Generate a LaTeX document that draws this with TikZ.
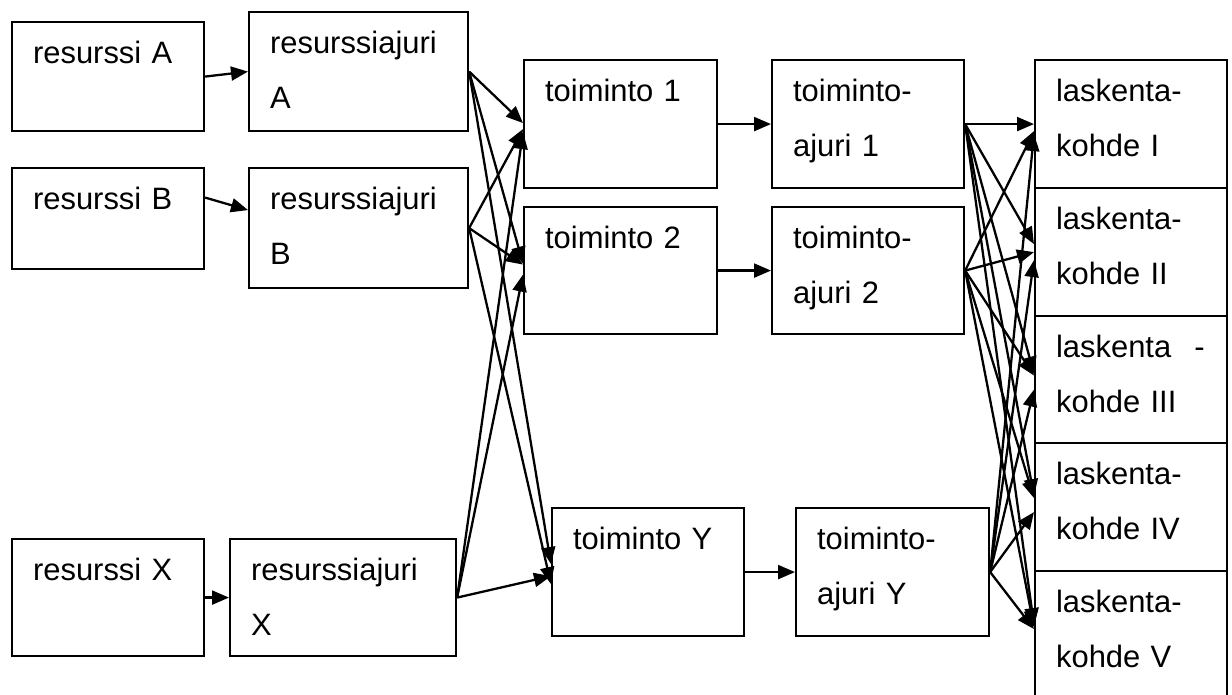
\documentclass[tikz,border=0pt]{standalone}
\usepackage{fontspec}
\setmainfont{Liberation Sans}
\usepackage{tikz}
\usetikzlibrary{calc, arrows.meta}
\newcommand*{\boxfont}{\fontsize{17.6}{31.3}\selectfont}
\tikzset{
	box/.style={draw, line width=1.25pt, anchor=north west, align=left, inner xsep=0.42cm, inner ysep=0pt, text height=0.82cm, font=\boxfont},
	arr/.style={-{Triangle[length=0.34cm, width=0.28cm]}, line width=1.3pt},
}
\begin{document}
\begin{tikzpicture}[x=0.02cm, y=-0.02cm]
\useasboundingbox (0,0) rectangle (1232,695);

% resurssit
\node[box, text width=3cm, text depth=1.36cm] (resA) at (11,21) {resurssi A};
\node[box, text width=3cm, text depth=1.2cm] (resB) at (11,167) {resurssi B};
\node[box, text width=3cm, text depth=1.52cm] (resX) at (11,538) {resurssi X};

% resurssiajurit
\node[box, text width=3.54cm, text depth=1.56cm] (ajA) at (248,11) {resurssiajuri\\A};
\node[box, text width=3.54cm, text depth=1.58cm] (ajB) at (248,167) {resurssiajuri\\B};
\node[box, text width=3.68cm, text depth=1.52cm] (ajX) at (229,538) {resurssiajuri\\X};

% toiminnot
\node[box, text width=3.02cm, text depth=1.74cm] (t1) at (523,59) {toiminto 1};
\node[box, text width=3.02cm, text depth=1.72cm] (t2) at (523,206) {toiminto 2};
\node[box, text width=3cm, text depth=1.74cm] (tY) at (551,507) {toiminto Y};

% toimintoajurit
\node[box, text width=3cm, text depth=1.74cm] (ta1) at (771,59) {toiminto-\\ajuri 1};
\node[box, text width=3cm, text depth=1.72cm] (ta2) at (771,206) {toiminto-\\ajuri 2};
\node[box, text width=3.02cm, text depth=1.74cm] (taY) at (795,507) {toiminto-\\ajuri Y};

% laskentakohteet
\node[box, text width=3cm, text depth=1.74cm] (l1) at (1034,59) {laskenta-\\kohde I};
\node[box, text width=3cm, text depth=1.74cm] (l2) at (1034,187) {laskenta-\\kohde II};
\node[box, text width=3cm, text depth=1.72cm] (l3) at (1034,315) {laskenta\hspace{0.75em}-\\kohde III};
\node[box, text width=3cm, text depth=1.74cm] (l4) at (1034,442) {laskenta-\\kohde IV};
\node[box, text width=3cm, text depth=1.74cm] (l5) at (1034,570) {laskenta-\\kohde V};

\draw[arr] (resA.east) -- (ajA.west);
\draw[arr] ($(resB.east)+(0,-21)$) -- ($(ajB.west)+(0,-18)$);
\draw[arr] (resX.east) -- (ajX.west);

\draw[arr] (ajA.east) -- ($(t1.west)+(0,-1)$);
\draw[arr] (ajA.east) -- ($(t2.west)+(0,-7)$);
\draw[arr] (ajA.east) -- ($(tY.west)+(0,-8)$);
\draw[arr] (ajB.east) -- ($(t1.west)+(0,5)$);
\draw[arr] (ajB.east) -- ($(t2.west)+(0,-6)$);
\draw[arr] (ajB.east) -- ($(tY.west)+(0,12)$);
\draw[arr] (ajX.east) -- ($(t1.west)+(0,8)$);
\draw[arr] (ajX.east) -- ($(t2.west)+(0,4)$);
\draw[arr] (ajX.east) -- ($(tY.west)+(0,4)$);

\draw[arr] (t1.east) -- (ta1.west);
\draw[arr] (t2.east) -- (ta2.west);
\draw[arr] (tY.east) -- (taY.west);

\draw[arr] (ta1.east) -- (l1.west);
\draw[arr] (ta1.east) -- ($(l2.west)+(0,-8)$);
\draw[arr] (ta1.east) -- ($(l3.west)+(0,-6)$);
\draw[arr] (ta1.east) -- ($(l4.west)+(0,-11)$);
\draw[arr] (ta1.east) -- ($(l5.west)+(0,-10)$);
\draw[arr] (ta2.east) -- ($(l1.west)+(0,7)$);
\draw[arr] (ta2.east) -- (l2.west);
\draw[arr] (ta2.east) -- ($(l3.west)+(0,-4)$);
\draw[arr] (ta2.east) -- ($(l4.west)+(0,-9)$);
\draw[arr] (ta2.east) -- ($(l5.west)+(0,-8)$);
\draw[arr] (taY.east) -- ($(l1.west)+(0,10)$);
\draw[arr] (taY.east) -- ($(l2.west)+(0,8)$);
\draw[arr] (taY.east) -- ($(l3.west)+(0,10)$);
\draw[arr] (taY.east) -- ($(l4.west)+(0,5)$);
\draw[arr] (taY.east) -- ($(l5.west)+(0,-6)$);
\end{tikzpicture}
\end{document}
